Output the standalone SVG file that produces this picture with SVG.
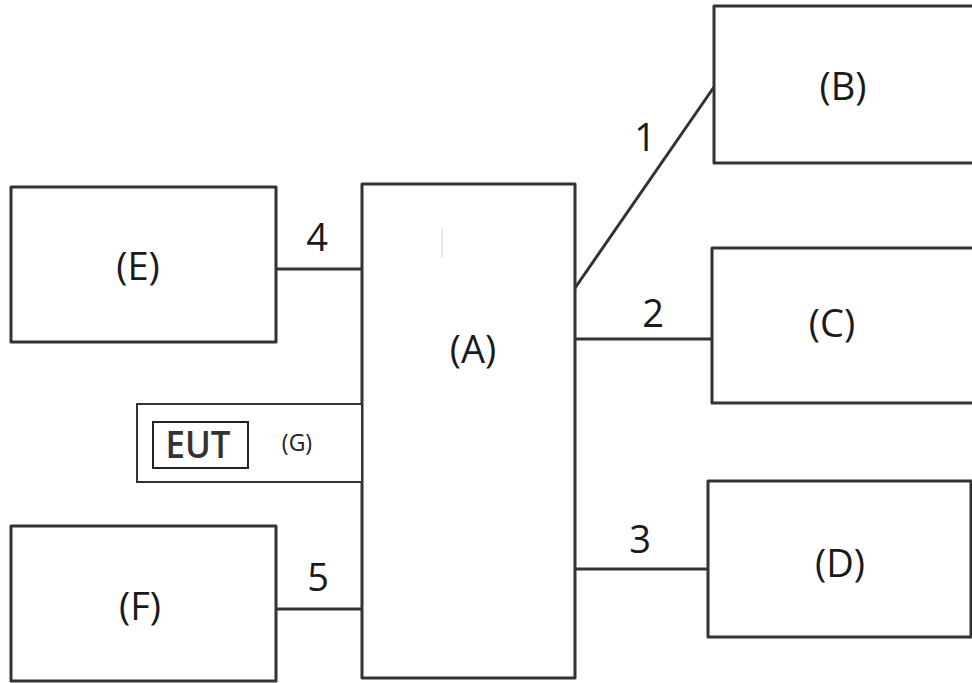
<svg xmlns="http://www.w3.org/2000/svg" width="972" height="683" viewBox="0 0 972 683">
<style>
.box{fill:#fff;stroke:#333;stroke-width:3;stroke-linejoin:round}
.ln{stroke:#333;stroke-width:3;fill:none;stroke-linecap:round}
.lbl{font-family:"Open Sans","DejaVu Sans",sans-serif;font-size:38px;fill:#1a1a1a;text-anchor:middle}
.num{font-family:"Open Sans","DejaVu Sans",sans-serif;font-size:38px;fill:#1a1a1a;text-anchor:middle}
</style>
<rect width="972" height="683" fill="#fff"/>
<g id="connectors">
<line class="ln" x1="276" y1="269" x2="362" y2="269"/>
<line class="ln" x1="276" y1="609" x2="362" y2="609"/>
<line class="ln" x1="575" y1="288" x2="714" y2="87"/>
<line class="ln" x1="575" y1="339" x2="712" y2="339"/>
<line class="ln" x1="575" y1="569" x2="708" y2="569"/>
<text class="num" x="645" y="151">1</text>
<text class="num" x="653" y="327">2</text>
<text class="num" x="640" y="553">3</text>
<text class="num" x="317" y="251">4</text>
<text class="num" x="318" y="591">5</text>
</g>
<g id="nodeA">
<rect class="box" x="362" y="184" width="213" height="494"/>
<line x1="442" y1="229" x2="442" y2="258" stroke="#e2e2e2" stroke-width="1.5"/>
<text class="lbl" x="473" y="363">(A)</text>
</g>
<g id="nodeB">
<rect class="box" x="714" y="6" width="270" height="157"/>
<text class="lbl" x="843" y="100">(B)</text>
</g>
<g id="nodeC">
<rect class="box" x="712" y="248" width="272" height="155"/>
<text class="lbl" x="832" y="337">(C)</text>
</g>
<g id="nodeD">
<rect class="box" x="708" y="481" width="263" height="156"/>
<text class="lbl" x="840" y="577">(D)</text>
</g>
<g id="nodeE">
<rect class="box" x="11" y="187" width="265" height="155"/>
<text class="lbl" x="138" y="280">(E)</text>
</g>
<g id="nodeF">
<rect class="box" x="11" y="526" width="265" height="155"/>
<text class="lbl" x="140" y="620">(F)</text>
</g>
<g id="nodeG">
<rect x="137" y="404" width="225" height="78" fill="#fff" stroke="#333" stroke-width="2"/>
<rect x="153" y="422" width="95" height="46" fill="none" stroke="#222" stroke-width="2"/>
<text x="198" y="458" font-family="Open Sans, DejaVu Sans, sans-serif" font-size="38" font-weight="600" fill="#333" text-anchor="middle" textLength="65" lengthAdjust="spacingAndGlyphs">EUT</text>
<text x="297" y="451" font-family="Open Sans, DejaVu Sans, sans-serif" font-size="23" fill="#222" text-anchor="middle">(G)</text>
</g>
</svg>
